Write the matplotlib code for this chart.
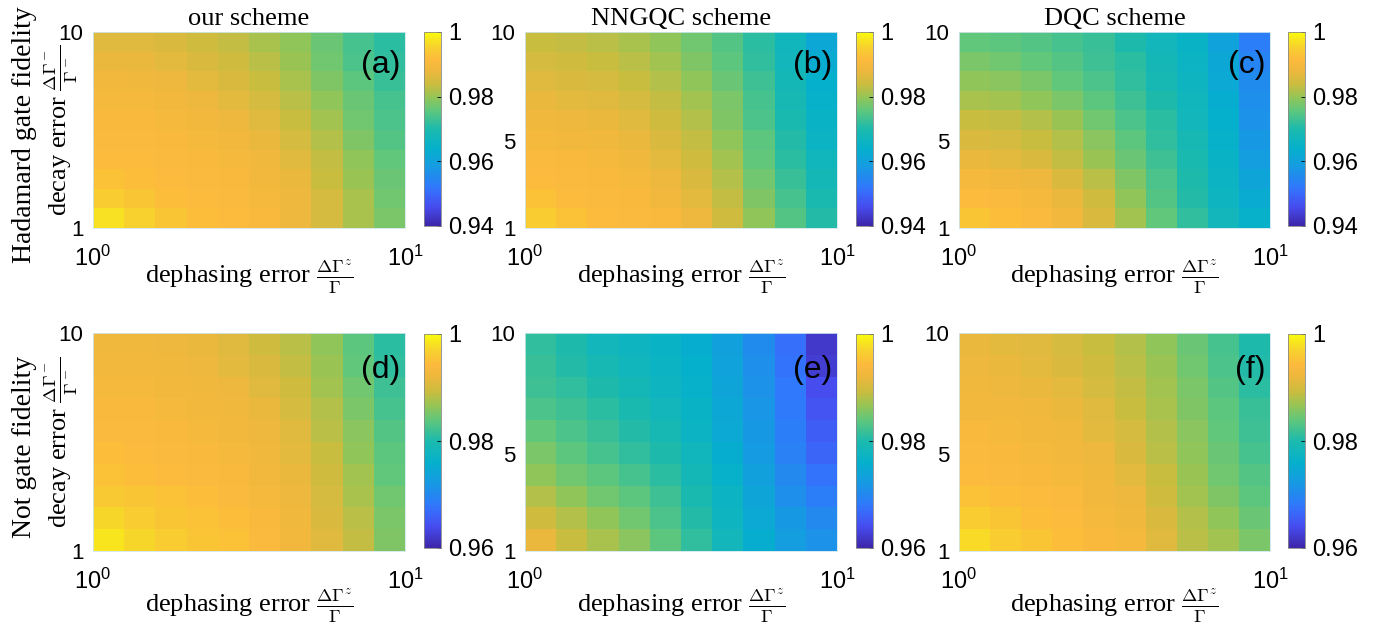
import numpy as np
import matplotlib
matplotlib.use("Agg")
import matplotlib.pyplot as plt
from matplotlib.colors import LinearSegmentedColormap
from matplotlib.ticker import NullLocator

# fidelity x 1000, rows from top (decay error = 10) to bottom (decay error = 1),
# columns from dephasing error 10^0 to 10^1
hadamard_ours = [
    [986.2, 986.2, 985.6, 984.4, 983.2, 981.4, 979.6, 976.6, 973.6, 971.2],
    [987.4, 987.4, 986.8, 985.6, 984.4, 982.6, 980.2, 977.2, 974.2, 971.8],
    [989.2, 988.6, 988.0, 986.8, 985.6, 983.8, 981.4, 978.4, 975.4, 972.4],
    [989.8, 989.8, 989.2, 988.0, 986.8, 985.0, 982.6, 979.6, 976.6, 973.6],
    [990.4, 990.4, 989.8, 989.2, 988.0, 986.2, 983.8, 980.8, 977.2, 974.2],
    [991.0, 991.0, 990.4, 989.8, 989.2, 987.4, 985.0, 982.0, 978.4, 974.8],
    [991.6, 991.6, 991.0, 990.4, 989.8, 988.6, 986.2, 983.2, 979.6, 976.0],
    [992.8, 992.2, 991.6, 991.0, 990.4, 989.2, 987.4, 983.8, 980.2, 976.6],
    [994.6, 993.4, 992.2, 991.6, 991.0, 989.8, 988.0, 985.0, 981.4, 977.2],
    [997.0, 995.2, 993.4, 992.2, 991.6, 990.4, 988.0, 985.0, 981.4, 977.8],
]
hadamard_nngqc = [
    [983.8, 983.2, 982.6, 981.4, 979.6, 977.2, 974.8, 971.2, 967.0, 961.6],
    [985.0, 984.4, 983.8, 982.6, 980.8, 978.4, 975.4, 971.8, 967.6, 962.8],
    [986.2, 985.6, 985.0, 983.8, 982.0, 979.6, 976.6, 973.0, 968.2, 964.0],
    [987.4, 986.8, 986.2, 985.0, 983.2, 980.8, 977.8, 973.6, 968.8, 964.6],
    [988.6, 988.0, 987.4, 986.2, 984.4, 982.0, 978.4, 974.2, 969.4, 965.2],
    [989.8, 989.2, 988.6, 987.4, 985.6, 983.2, 979.6, 975.4, 970.6, 965.8],
    [991.0, 990.4, 989.8, 988.6, 986.8, 984.4, 980.8, 976.0, 971.2, 967.0],
    [991.6, 991.0, 990.4, 989.8, 988.0, 985.6, 982.0, 977.2, 972.4, 968.2],
    [992.8, 991.6, 991.0, 990.4, 989.2, 986.8, 983.2, 978.4, 973.6, 969.4],
    [994.6, 992.8, 991.6, 991.0, 990.4, 988.0, 984.4, 979.6, 974.8, 970.6],
]
hadamard_dqc = [
    [976.0, 975.4, 974.8, 973.6, 972.4, 970.0, 967.6, 965.2, 960.4, 953.2],
    [977.8, 977.2, 976.0, 974.8, 973.0, 971.2, 968.2, 965.8, 961.6, 954.4],
    [979.6, 979.0, 977.8, 976.0, 974.2, 971.8, 968.8, 966.4, 962.2, 955.6],
    [981.4, 980.8, 979.6, 977.8, 975.4, 973.0, 970.0, 967.0, 963.4, 956.2],
    [983.8, 983.2, 982.0, 980.2, 977.2, 974.2, 971.2, 967.6, 964.0, 956.8],
    [985.6, 985.0, 983.8, 982.0, 979.0, 975.4, 971.8, 968.8, 964.6, 958.0],
    [987.4, 986.8, 985.6, 983.2, 980.2, 976.6, 973.0, 969.4, 965.2, 959.2],
    [989.8, 989.2, 988.0, 985.6, 982.6, 978.4, 974.2, 970.0, 965.8, 961.0],
    [991.6, 991.0, 989.8, 987.4, 984.4, 979.6, 974.8, 970.6, 966.4, 962.8],
    [993.4, 992.2, 991.0, 989.2, 985.6, 980.8, 976.0, 971.8, 967.6, 964.6],
]
not_ours = [
    [992.4, 992.4, 992.0, 991.6, 990.8, 989.6, 988.4, 986.4, 983.6, 980.8],
    [992.8, 992.8, 992.4, 992.0, 991.2, 990.4, 988.8, 986.8, 984.0, 981.2],
    [993.2, 993.2, 992.8, 992.4, 992.0, 990.8, 989.6, 987.2, 984.8, 982.0],
    [993.6, 993.6, 993.2, 992.8, 992.4, 991.6, 990.0, 988.0, 985.2, 982.4],
    [994.0, 994.0, 993.6, 993.2, 992.8, 992.0, 990.8, 988.4, 986.0, 983.2],
    [994.8, 994.4, 994.0, 993.6, 993.2, 992.4, 991.2, 989.2, 986.4, 983.6],
    [995.2, 994.8, 994.4, 994.0, 993.6, 992.8, 991.6, 989.6, 987.2, 984.0],
    [996.0, 995.6, 995.2, 994.8, 994.0, 993.2, 992.0, 990.0, 987.6, 984.8],
    [997.2, 996.4, 995.6, 995.2, 994.8, 993.6, 992.4, 990.4, 988.4, 985.2],
    [998.4, 997.2, 996.4, 995.6, 995.2, 994.0, 992.8, 990.8, 988.8, 985.6],
]
not_nngqc = [
    [981.2, 980.0, 978.4, 977.6, 976.8, 975.6, 973.2, 970.4, 967.2, 962.0],
    [981.6, 980.4, 979.2, 978.0, 977.2, 976.0, 973.6, 970.8, 967.6, 962.4],
    [982.0, 981.2, 980.0, 978.8, 977.6, 976.4, 974.0, 971.2, 968.0, 964.0],
    [982.8, 982.0, 980.8, 979.6, 978.4, 976.8, 974.4, 971.6, 968.4, 964.8],
    [984.0, 982.8, 981.6, 980.4, 979.2, 977.2, 974.8, 972.0, 968.8, 965.6],
    [985.2, 983.6, 982.4, 981.2, 980.0, 978.0, 975.6, 972.4, 969.2, 966.4],
    [986.4, 984.8, 983.6, 982.4, 980.8, 978.8, 976.4, 973.2, 970.0, 967.6],
    [988.0, 986.4, 984.8, 983.6, 982.0, 979.6, 977.2, 974.0, 970.8, 968.8],
    [989.6, 988.0, 986.4, 984.8, 982.8, 980.4, 977.6, 974.8, 972.0, 970.0],
    [991.6, 989.2, 987.6, 986.0, 983.6, 981.2, 978.4, 975.6, 972.8, 971.2],
]
not_dqc = [
    [991.6, 991.2, 990.8, 990.0, 989.2, 988.0, 986.4, 984.4, 982.4, 980.0],
    [992.0, 991.6, 991.2, 990.4, 989.6, 988.4, 986.8, 984.8, 982.8, 980.4],
    [992.4, 992.0, 991.6, 991.2, 990.0, 988.8, 987.2, 985.2, 983.2, 980.8],
    [992.8, 992.8, 992.4, 991.6, 990.8, 989.2, 987.6, 985.6, 983.6, 981.6],
    [993.6, 993.2, 992.8, 992.4, 991.2, 990.0, 988.0, 986.0, 984.0, 982.0],
    [994.0, 993.6, 993.2, 992.8, 992.0, 990.4, 988.4, 986.4, 984.4, 982.4],
    [994.4, 994.0, 993.6, 993.2, 992.4, 991.2, 989.2, 986.8, 984.8, 983.2],
    [995.2, 994.8, 994.4, 994.0, 992.8, 992.0, 989.6, 987.2, 985.6, 983.6],
    [996.4, 995.6, 994.8, 994.4, 993.2, 992.4, 990.4, 988.0, 986.4, 984.4],
    [997.6, 996.4, 995.6, 994.8, 993.6, 993.2, 990.8, 988.4, 987.2, 985.2],
]

titles = ["our scheme", "NNGQC scheme", "DQC scheme"]
panel_tags = ["(a)", "(b)", "(c)", "(d)", "(e)", "(f)"]
row_names = ["Hadamard gate fidelity", "Not gate fidelity"]
row_limits = [(0.94, 1.0), (0.96, 1.0)]
row_cticks = [[0.94, 0.96, 0.98, 1.0], [0.96, 0.98, 1.0]]
row_cticklabels = [["0.94", "0.96", "0.98", "1"], ["0.96", "0.98", "1"]]

# parula-like colormap, matched to the colorbar of the original figure
parula_pos = [0.0, 0.10, 0.20, 0.30, 0.40, 0.50, 0.60, 0.67, 0.73, 0.80, 0.86, 0.93, 1.0]
parula_rgb = [
    (0.2422, 0.1504, 0.6603), (0.2760, 0.3000, 0.9400), (0.1900, 0.4700, 0.9900),
    (0.0900, 0.6000, 0.8900), (0.0200, 0.6900, 0.8000), (0.1100, 0.7300, 0.6800),
    (0.3800, 0.7800, 0.4800), (0.6000, 0.7700, 0.3300), (0.7900, 0.7400, 0.2500),
    (0.9300, 0.7200, 0.2400), (0.9900, 0.7300, 0.2400), (0.9700, 0.8300, 0.1700),
    (0.9763, 0.9831, 0.0538),
]
cmap = LinearSegmentedColormap.from_list("parula", list(zip(parula_pos, parula_rgb)), N=256)

plt.rcParams['font.family'] = ['Liberation Sans', 'DejaVu Sans']
plt.rcParams['mathtext.fontset'] = 'cm'
serif = ['Liberation Serif', 'DejaVu Serif']

W, H = 1379, 625
fig = plt.figure(figsize=(W / 100, H / 100), dpi=100)

def frac(left, top, right, bottom):
    # pixel box -> figure fraction [left, bottom, width, height]
    return [left / W, (H - bottom) / H, (right - left) / W, (bottom - top) / H]

ax_cols = [(93, 405), (525, 837), (959, 1270)]
cb_cols = [(424, 441), (856, 873), (1288, 1305)]
ax_rows = [(32, 228), (333, 551)]
cb_rows = [(32, 226), (334, 548)]

xedges = np.logspace(0, 1, 11)
yedges = np.linspace(1, 10, 11)

grids = [[hadamard_ours, hadamard_nngqc, hadamard_dqc],
         [not_ours, not_nngqc, not_dqc]]

for r in range(2):
    for c in range(3):
        ax = fig.add_axes(frac(ax_cols[c][0], ax_rows[r][0], ax_cols[c][1], ax_rows[r][1]))
        cax = fig.add_axes(frac(cb_cols[c][0], cb_rows[r][0], cb_cols[c][1], cb_rows[r][1]))
        Z = np.flipud(np.array(grids[r][c])) / 1000.0
        vmin, vmax = row_limits[r]
        mesh = ax.pcolormesh(xedges, yedges, Z, cmap=cmap, vmin=vmin, vmax=vmax,
                             shading='flat', edgecolors='none')
        ax.set_xscale('log')
        ax.set_xlim(1, 10)
        ax.set_ylim(1, 10)
        ax.xaxis.set_minor_locator(NullLocator())
        ax.set_xticks([1, 10])
        ax.set_xticklabels([r'$\mathregular{10^0}$', r'$\mathregular{10^1}$'])
        if c == 0:
            ax.set_yticks([1, 10])
        else:
            ax.set_yticks([1, 5, 10])
        ax.tick_params(length=0, labelsize=16)
        ax.tick_params(axis='x', pad=13, labelsize=17)
        ax.tick_params(axis='y', pad=7)
        for sp in ax.spines.values():
            sp.set_color('#cfe6ee')
            sp.set_linewidth(0.6)

        ax.text(0.985, 0.83, panel_tags[r * 3 + c], transform=ax.transAxes,
                ha='right', va='center', fontsize=23)
        ax.text(0.5, -0.25, r'dephasing error $\frac{\Delta\Gamma^z}{\Gamma}$',
                transform=ax.transAxes, ha='center', va='center',
                fontsize=19, family=serif)
        if r == 0:
            ax.set_title(titles[c], family=serif, fontsize=19, pad=5)

        cb = fig.colorbar(mesh, cax=cax, ticks=row_cticks[r])
        cb.ax.set_yticklabels(row_cticklabels[r])
        cb.ax.tick_params(direction='in', length=3, width=0.6, labelsize=17, pad=5)
        cb.outline.set_linewidth(0.6)
        cb.outline.set_edgecolor('#888888')

    yc = (ax_rows[r][0] + ax_rows[r][1]) / 2
    fig.text(61 / W, (H - yc) / H, r'decay error $\frac{\Delta\Gamma^-}{\Gamma^-}$',
             rotation=90, ha='center', va='center', fontsize=19, family=serif)
    fig.text(25 / W, (H - yc - 5) / H, row_names[r], rotation=90,
             ha='center', va='center', fontsize=20, family=serif)

fig.savefig("out.png", dpi=100)
